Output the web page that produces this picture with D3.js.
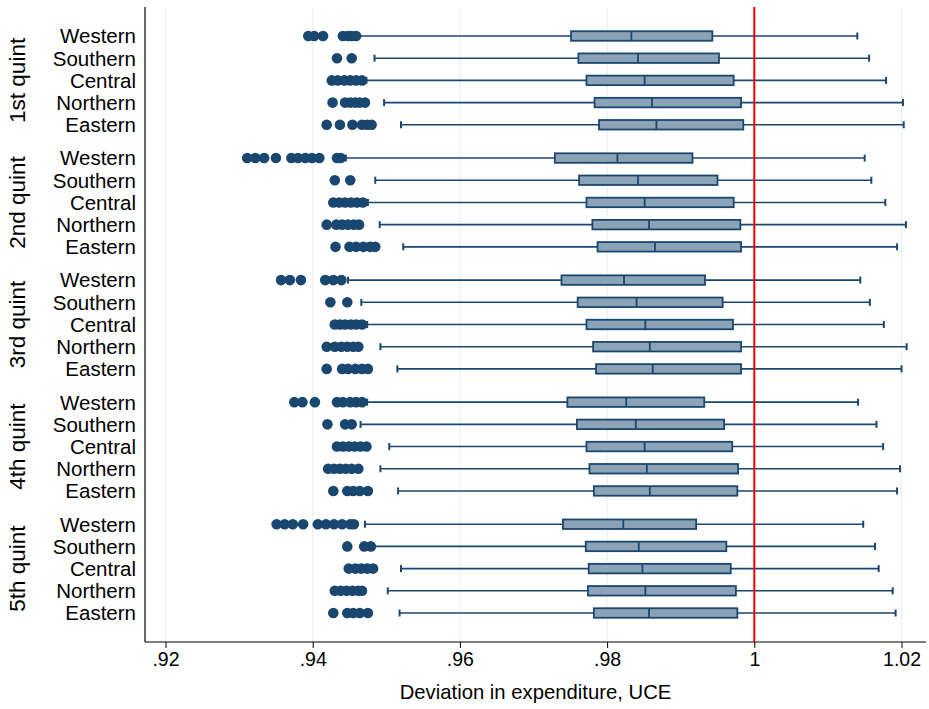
<!DOCTYPE html>
<html>
<head>
<meta charset="utf-8">
<script src="https://cdn.jsdelivr.net/npm/d3@7/dist/d3.min.js"></script>
<style>
  html, body { margin: 0; padding: 0; background: #ffffff; }
  svg { display: block; }
  text { font-family: "Liberation Sans", Arial, Helvetica, sans-serif; fill: #000; }
</style>
</head>
<body>
<svg id="chart" width="929" height="709"></svg>
<script>
// ---------------- DATA ----------------
const quintiles = ["1st quint", "2nd quint", "3rd quint", "4th quint", "5th quint"];
const regions = ["Western", "Southern", "Central", "Northern", "Eastern"];
const xTicks = [0.92, 0.94, 0.96, 0.98, 1.00, 1.02];
const xTickLabels = [".92", ".94", ".96", ".98", "1", "1.02"];
const xTitle = "Deviation in expenditure, UCE";
const refLine = 1.0;

// rows: quintile, columns: region (Western, Southern, Central, Northern, Eastern)
const q1 = [
  [0.9751, 0.9761, 0.9772, 0.9783, 0.9789],
  [0.9729, 0.9762, 0.9772, 0.9780, 0.9787],
  [0.9738, 0.9760, 0.9772, 0.9781, 0.9785],
  [0.9746, 0.9759, 0.9772, 0.9776, 0.9782],
  [0.9740, 0.9771, 0.9775, 0.9774, 0.9782]
];
const median = [
  [0.9833, 0.9842, 0.9851, 0.9861, 0.9867],
  [0.9814, 0.9842, 0.9851, 0.9857, 0.9865],
  [0.9823, 0.9840, 0.9852, 0.9858, 0.9862],
  [0.9826, 0.9839, 0.9851, 0.9854, 0.9858],
  [0.9822, 0.9843, 0.9848, 0.9852, 0.9857]
];
const q3 = [
  [0.9943, 0.9952, 0.9972, 0.9982, 0.9985],
  [0.9916, 0.9950, 0.9972, 0.9981, 0.9982],
  [0.9933, 0.9957, 0.9971, 0.9982, 0.9982],
  [0.9932, 0.9959, 0.9970, 0.9978, 0.9977],
  [0.9921, 0.9962, 0.9968, 0.9975, 0.9977]
];
const whiskerLow = [
  [0.9461, 0.9484, 0.9473, 0.9497, 0.9520],
  [0.9445, 0.9485, 0.9475, 0.9491, 0.9523],
  [0.9448, 0.9466, 0.9474, 0.9492, 0.9515],
  [0.9474, 0.9465, 0.9504, 0.9492, 0.9516],
  [0.9471, 0.9480, 0.9520, 0.9502, 0.9518]
];
const whiskerHigh = [
  [1.0140, 1.0156, 1.0179, 1.0202, 1.0203],
  [1.0150, 1.0159, 1.0178, 1.0206, 1.0194],
  [1.0144, 1.0157, 1.0176, 1.0207, 1.0200],
  [1.0141, 1.0166, 1.0175, 1.0198, 1.0194],
  [1.0148, 1.0164, 1.0169, 1.0188, 1.0192]
];
const outliers = [
  [
    [0.9394, 0.9402, 0.9414, 0.9441, 0.9448, 0.9453, 0.9459],
    [0.9433, 0.9453],
    [0.9426, 0.9434, 0.9443, 0.9451, 0.9459, 0.9467],
    [0.9427, 0.9444, 0.9451, 0.9458, 0.9464, 0.9471],
    [0.9419, 0.9437, 0.9454, 0.9467, 0.9474, 0.9480]
  ],
  [
    [0.9311, 0.9322, 0.9334, 0.9350, 0.9371, 0.9380, 0.9390, 0.9399, 0.9409, 0.9433, 0.9438],
    [0.9430, 0.9451],
    [0.9428, 0.9436, 0.9444, 0.9452, 0.9460, 0.9468],
    [0.9419, 0.9432, 0.9440, 0.9448, 0.9456, 0.9463],
    [0.9431, 0.9450, 0.9459, 0.9469, 0.9478, 0.9485]
  ],
  [
    [0.9357, 0.9369, 0.9384, 0.9417, 0.9428, 0.9439],
    [0.9424, 0.9447],
    [0.9430, 0.9437, 0.9444, 0.9452, 0.9459, 0.9467],
    [0.9419, 0.9430, 0.9439, 0.9447, 0.9455, 0.9462],
    [0.9419, 0.9440, 0.9448, 0.9458, 0.9467, 0.9475]
  ],
  [
    [0.9375, 0.9386, 0.9403, 0.9433, 0.9441, 0.9451, 0.9459, 0.9467],
    [0.9420, 0.9444, 0.9453],
    [0.9433, 0.9441, 0.9449, 0.9457, 0.9465, 0.9473],
    [0.9421, 0.9429, 0.9437, 0.9445, 0.9453, 0.9462],
    [0.9428, 0.9447, 0.9455, 0.9464, 0.9475]
  ],
  [
    [0.9351, 0.9362, 0.9373, 0.9387, 0.9407, 0.9418, 0.9429, 0.9440, 0.9451, 0.9456],
    [0.9447, 0.9470, 0.9479],
    [0.9449, 0.9458, 0.9466, 0.9474, 0.9482],
    [0.9430, 0.9438, 0.9446, 0.9454, 0.9462, 0.9467],
    [0.9428, 0.9447, 0.9455, 0.9464, 0.9475]
  ]
];

// ---------------- LAYOUT ----------------
const navy = "#1a476f";
const boxFill = "#8ca3b7";
const gridColor = "#e8eff3";

const plot = { left: 145, right: 926, top: 7, bottom: 642 };
const x = d3.scaleLinear().domain([0.92, 1.02]).range([165.5, 901.5]);
const groupGap = 0.5; // extra row gap between quintile groups
const rowsPerGroup = regions.length + groupGap;
const y = d3.scaleLinear()
  .domain([0, (quintiles.length - 1) * rowsPerGroup + regions.length - 1])
  .range([36, 613]);
const rowPos = (g, r) => y(g * rowsPerGroup + r);

const svg = d3.select("#chart");

// build flat table
const rows = [];
quintiles.forEach((qn, g) => {
  regions.forEach((rn, r) => {
    rows.push({
      g, r, quint: qn, region: rn,
      q1: q1[g][r], med: median[g][r], q3: q3[g][r],
      lo: whiskerLow[g][r], hi: whiskerHigh[g][r],
      out: outliers[g][r]
    });
  });
});

// gridlines
svg.append("g").selectAll("line")
  .data(xTicks)
  .join("line")
  .attr("x1", d => x(d)).attr("x2", d => x(d))
  .attr("y1", plot.top).attr("y2", plot.bottom)
  .attr("stroke", gridColor).attr("stroke-width", 1.2);

// x axis
const xAxis = d3.axisBottom(x)
  .tickValues(xTicks)
  .tickFormat((d, i) => xTickLabels[i])
  .tickSize(6)
  .tickSizeOuter(0);
const gx = svg.append("g")
  .attr("transform", `translate(0,${plot.bottom})`)
  .call(xAxis);
gx.select(".domain").remove();
gx.append("line")
  .attr("x1", plot.left).attr("x2", plot.right)
  .attr("y1", 0).attr("y2", 0)
  .attr("stroke", "#000").attr("stroke-width", 1.2);
gx.selectAll(".tick line").attr("stroke", "#000").attr("stroke-width", 1);
gx.selectAll(".tick text")
  .attr("y", 10)
  .attr("dy", "0.71em")
  .style("font-size", "19.5px")
  .style("font-family", '"Liberation Sans", Arial, sans-serif')
  .attr("fill", "#000");

// y axis line
svg.append("line")
  .attr("x1", plot.left).attr("x2", plot.left)
  .attr("y1", plot.top).attr("y2", plot.bottom)
  .attr("stroke", "#000").attr("stroke-width", 1.2);

// x title
svg.append("text")
  .attr("x", (plot.left + plot.right) / 2)
  .attr("y", 699)
  .attr("text-anchor", "middle")
  .style("font-size", "20.3px")
  .text(xTitle);

// region labels
svg.append("g").selectAll("text")
  .data(rows)
  .join("text")
  .attr("x", 136)
  .attr("y", d => rowPos(d.g, d.r))
  .attr("dy", "0.36em")
  .attr("text-anchor", "end")
  .style("font-size", "20.5px")
  .text(d => d.region);

// quintile labels
svg.append("g").selectAll("text")
  .data(quintiles)
  .join("text")
  .attr("transform", (d, g) => `translate(25,${rowPos(g, (regions.length - 1) / 2)}) rotate(-90)`)
  .attr("text-anchor", "middle")
  .style("font-size", "22.5px")
  .text(d => d);

// whiskers
const wg = svg.append("g").attr("stroke", navy).attr("stroke-width", 1.6);
wg.selectAll("line.wlo")
  .data(rows).join("line").attr("class", "wlo")
  .attr("x1", d => x(d.lo)).attr("x2", d => x(d.q1))
  .attr("y1", d => rowPos(d.g, d.r)).attr("y2", d => rowPos(d.g, d.r));
wg.selectAll("line.whi")
  .data(rows).join("line").attr("class", "whi")
  .attr("x1", d => x(d.q3)).attr("x2", d => x(d.hi))
  .attr("y1", d => rowPos(d.g, d.r)).attr("y2", d => rowPos(d.g, d.r));
const capH = 3.5;
wg.selectAll("line.clo")
  .data(rows).join("line").attr("class", "clo")
  .attr("x1", d => x(d.lo)).attr("x2", d => x(d.lo))
  .attr("y1", d => rowPos(d.g, d.r) - capH).attr("y2", d => rowPos(d.g, d.r) + capH)
  .attr("stroke-width", 2);
wg.selectAll("line.chi")
  .data(rows).join("line").attr("class", "chi")
  .attr("x1", d => x(d.hi)).attr("x2", d => x(d.hi))
  .attr("y1", d => rowPos(d.g, d.r) - capH).attr("y2", d => rowPos(d.g, d.r) + capH)
  .attr("stroke-width", 2);

// boxes
const boxH = 9.5;
svg.append("g").selectAll("rect")
  .data(rows).join("rect")
  .attr("x", d => x(d.q1))
  .attr("y", d => rowPos(d.g, d.r) - boxH / 2)
  .attr("width", d => x(d.q3) - x(d.q1))
  .attr("height", boxH)
  .attr("fill", boxFill)
  .attr("stroke", navy)
  .attr("stroke-width", 1.8);

// medians
svg.append("g").selectAll("line")
  .data(rows).join("line")
  .attr("x1", d => x(d.med)).attr("x2", d => x(d.med))
  .attr("y1", d => rowPos(d.g, d.r) - boxH / 2).attr("y2", d => rowPos(d.g, d.r) + boxH / 2)
  .attr("stroke", navy).attr("stroke-width", 1.8);

// outliers
const pts = rows.flatMap(d => d.out.map(v => ({ v, g: d.g, r: d.r })));
svg.append("g").selectAll("circle")
  .data(pts).join("circle")
  .attr("cx", d => x(d.v))
  .attr("cy", d => rowPos(d.g, d.r))
  .attr("r", 5.3)
  .attr("fill", navy);

// reference line
svg.append("line")
  .attr("x1", x(refLine)).attr("x2", x(refLine))
  .attr("y1", plot.top).attr("y2", plot.bottom)
  .attr("stroke", "#ff0000").attr("stroke-width", 2);
</script>
</body>
</html>
